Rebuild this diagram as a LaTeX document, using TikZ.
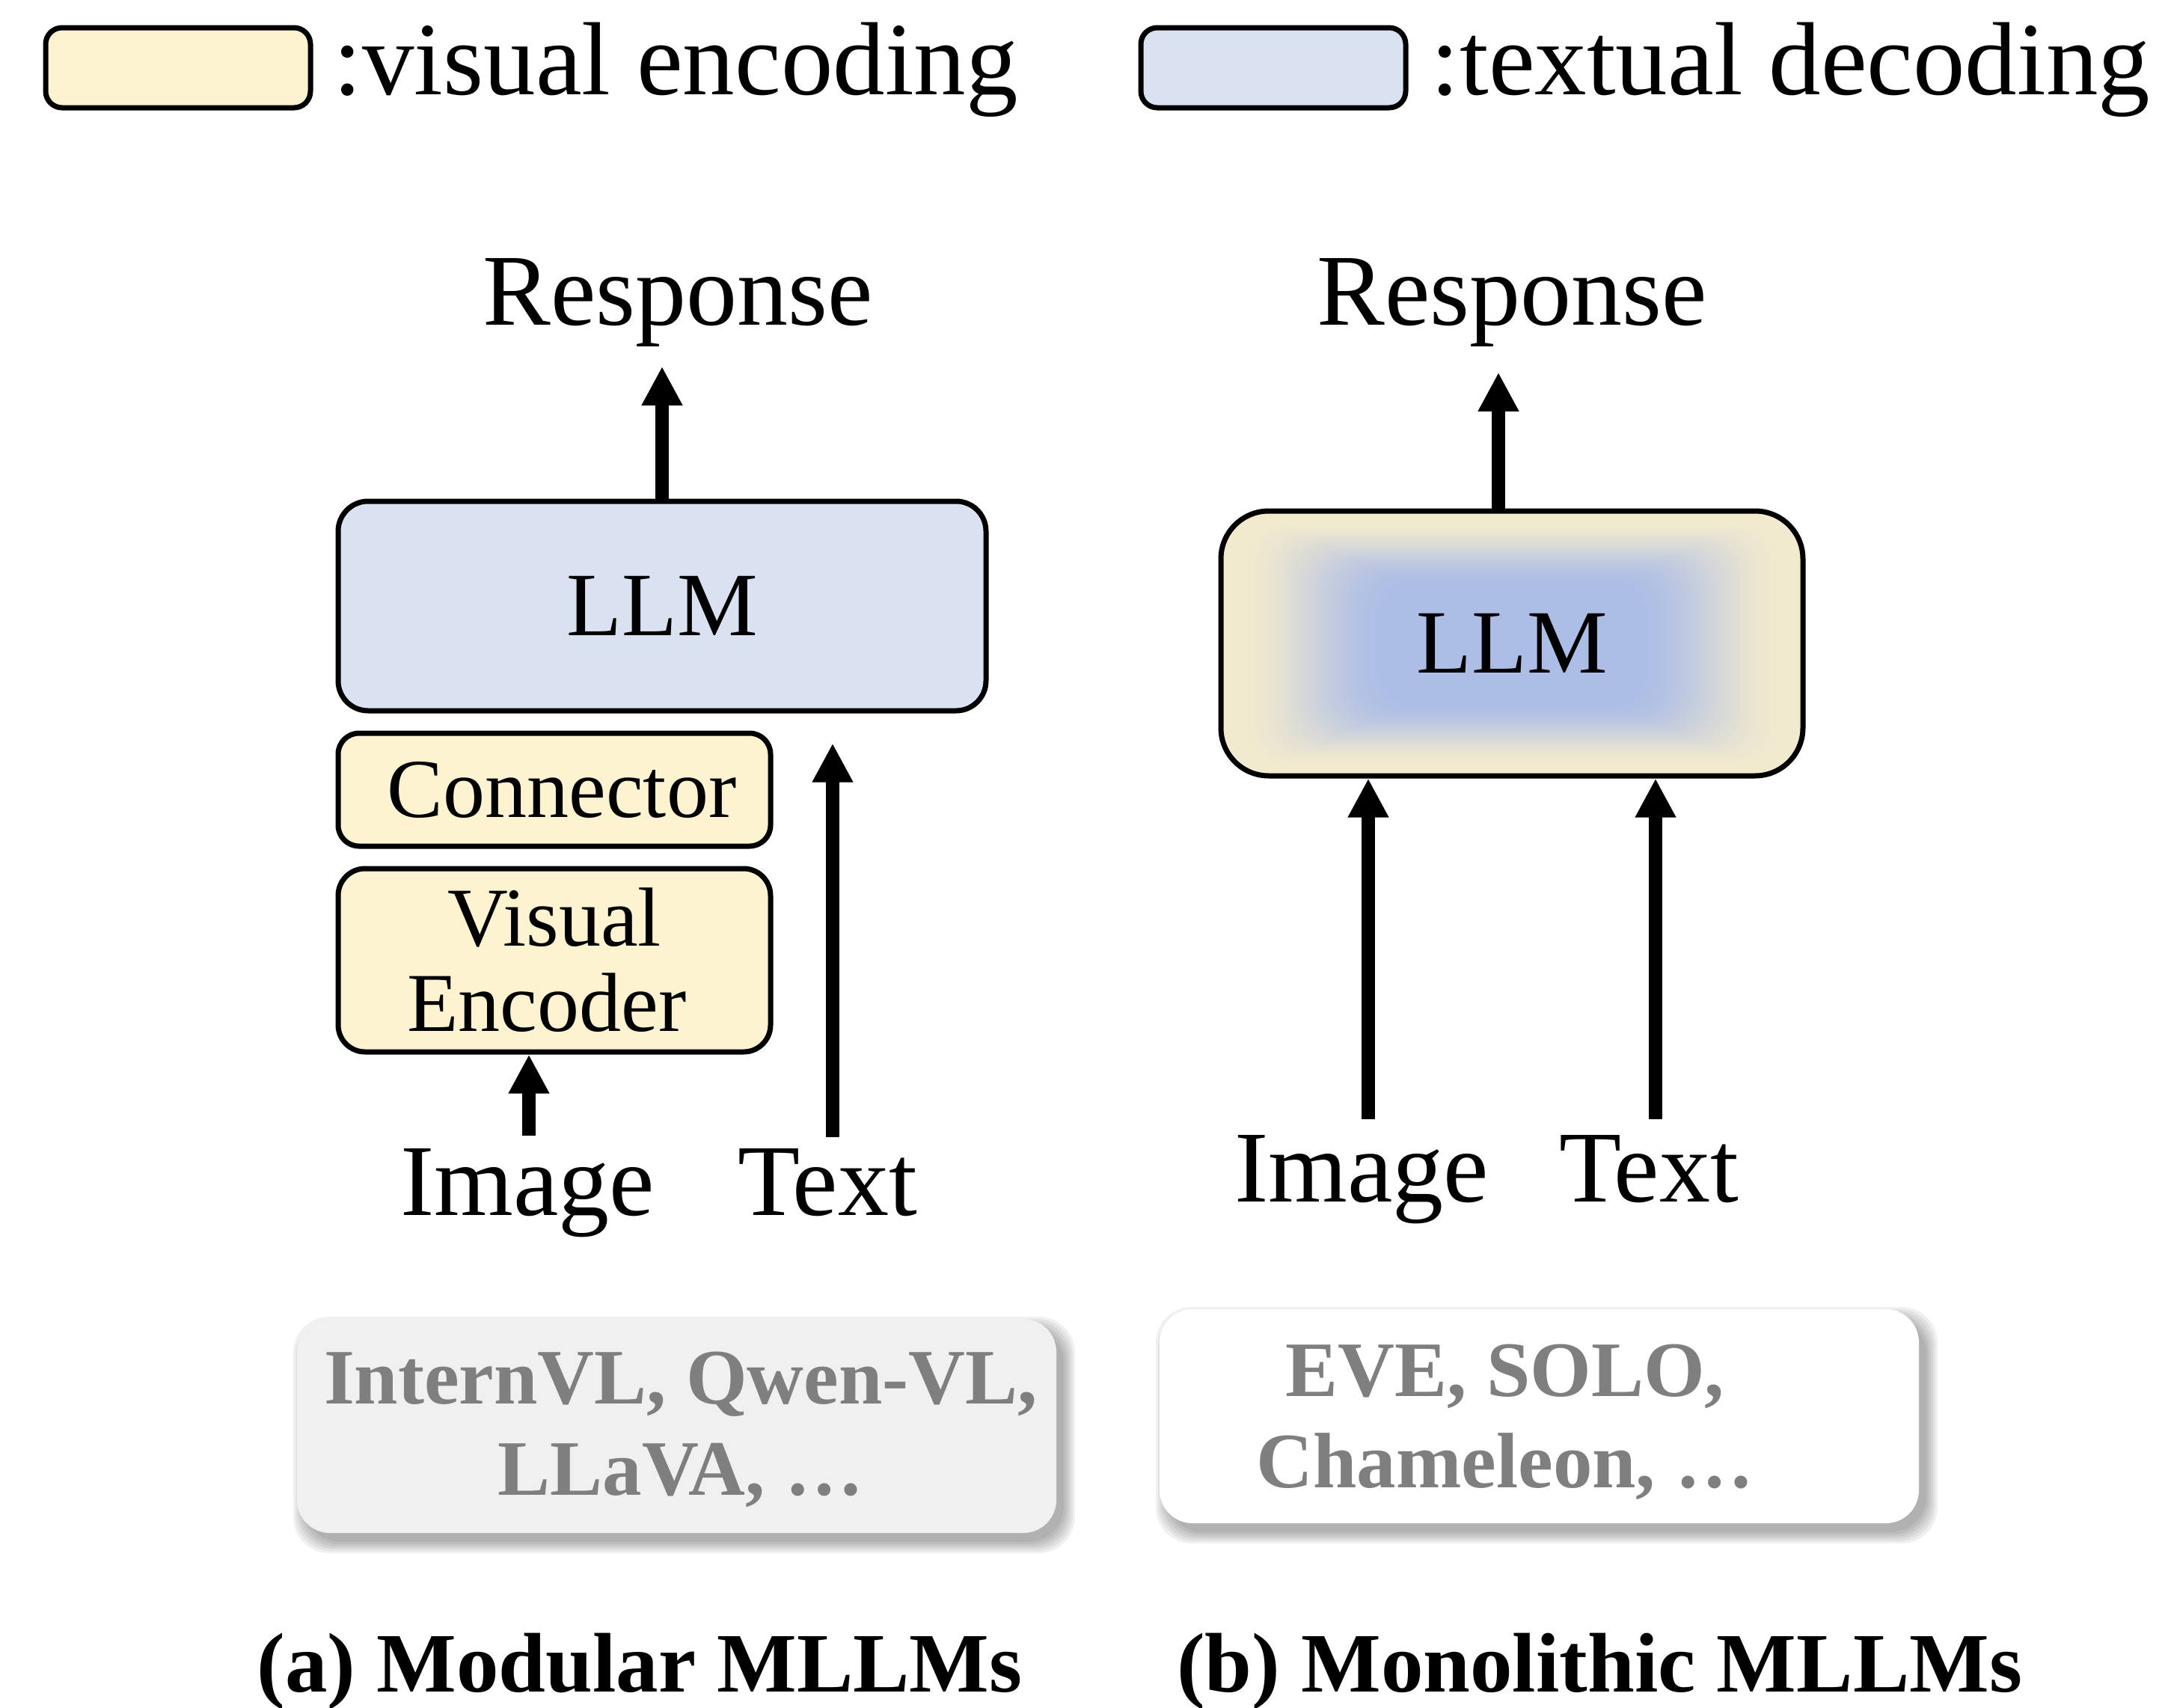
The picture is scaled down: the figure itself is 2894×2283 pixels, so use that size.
\documentclass[tikz,border=0pt]{standalone}
\usepackage{fontspec}
\setmainfont{Liberation Serif}
\usetikzlibrary{arrows.meta}

\definecolor{encfill}{HTML}{FDF3D0}
\definecolor{decfill}{HTML}{DAE2F1}
\definecolor{mixedge}{HTML}{F2EACF}
\definecolor{mixcore}{HTML}{ADBEE6}
\definecolor{examplebg}{HTML}{F0F0F0}
\definecolor{exampletext}{HTML}{7F7F7F}

\begin{document}
\begin{tikzpicture}[x=0.25pt,y=-0.25pt,
  box/.style={draw=black, line width=1.75pt, inner sep=0pt, align=center},
  encbox/.style={box, fill=encfill},
  decbox/.style={box, fill=decfill},
  legbox/.style={minimum width=88.5pt, minimum height=26.75pt, rounded corners=5.5pt},
  arr/.style={line width=4.4pt, -{Triangle[width=12.75pt,length=13pt]}},
  legtext/.style={font=\fontsize{34.75pt}{40pt}\selectfont, inner sep=0pt, anchor=base west},
  bigtext/.style={font=\fontsize{34pt}{40pt}\selectfont, inner sep=0pt, anchor=base},
  llmfont/.style={font=\fontsize{30.25pt}{34pt}\selectfont},
  modfont/.style={font=\fontsize{28pt}{28.5pt}\selectfont},
  exbox/.style={minimum width=253.75pt, minimum height=71.5pt, rounded corners=11pt, inner sep=0pt},
  extext/.style={font=\fontsize{26.25pt}{30.5pt}\selectfont\bfseries, text=exampletext, align=center, inner sep=0pt},
  captext/.style={font=\fontsize{28.25pt}{32pt}\selectfont\bfseries, inner sep=0pt, anchor=base}
]
\useasboundingbox (0,0) rectangle (2894,2283);

% ---------- legend ----------
\node[encbox, legbox] (legenc) at (238,90.5) {};
\node[legtext] (legenctext) at (445,126) {:visual encoding};
\node[decbox, legbox] (legdec) at (1702,90.5) {};
\node[legtext] (legdectext) at (1912,126) {:textual decoding};

% ---------- (a) modular ----------
\node[bigtext] (respA) at (906,434) {Response};
\node[decbox, llmfont, minimum width=216.5pt, minimum height=70pt, rounded corners=10pt] (llmA) at (885,810) {LLM};
\node[encbox, modfont, minimum width=144.5pt, minimum height=37.75pt, rounded corners=7pt] (conn) at (741,1055.5) {\hspace*{5pt}Connector};
\node[encbox, modfont, minimum width=144.5pt, minimum height=61.25pt, rounded corners=9pt] (venc) at (741,1283.5) {Visual\\Encoder\hspace*{5pt}};
\node[bigtext] (imgA) at (705,1624) {Image};
\node[bigtext] (txtA) at (1106,1624) {Text};

\draw[arr, shorten >=6.5pt] (llmA.north) -- (llmA.north |- respA.south);
\draw[arr, shorten <=4pt] ([xshift=0.5pt]imgA.north) -- ([xshift=0.5pt]imgA.north |- venc.south);
\draw[arr, shorten <=3.5pt, shorten >=10pt] ([xshift=1.75pt]txtA.north) -- ([xshift=1.75pt]txtA.north |- llmA.south);

% ---------- (b) monolithic ----------
\node[bigtext] (respB) at (2021,434) {Response};
% soft blend from visual (edge) to textual (core) inside the LLM box
\begin{scope}
  \clip[rounded corners=16pt] (1632,683) rectangle (2410,1037);
  \fill[mixedge] (1632,683) rectangle (2410,1037);
  \foreach \i in {1,...,40} {
    \pgfmathsetmacro\t{\i/40}
    \pgfmathsetmacro\p{100*(3*\t*\t-2*\t*\t*\t)}
    \fill[mixcore!\p!mixedge, rounded corners=12pt]
      (1652+\i*5,693+\i*2.2) rectangle (2390-\i*5,1027-\i*2.2);
  }
\end{scope}
\node[box, llmfont, minimum width=194.5pt, minimum height=88.5pt, rounded corners=16pt] (llmB) at (2021,860) {LLM};
\node[bigtext] (imgB) at (1820,1606) {Image};
\node[bigtext] (txtB) at (2204,1606) {Text};

\draw[arr, shorten >=8.5pt] ([xshift=-4.5pt]llmB.north) -- ([xshift=-4.5pt]llmB.north |- respB.south);
\draw[arr, shorten <=5pt] ([xshift=2.25pt]imgB.north) -- ([xshift=2.25pt]imgB.north |- llmB.south);
\draw[arr, shorten <=5pt] ([xshift=2.25pt]txtB.north) -- ([xshift=2.25pt]txtB.north |- llmB.south);

% ---------- example model boxes with soft shadows ----------
\foreach \k in {0,...,5} {
  \fill[black, opacity=0.06, rounded corners=12pt]
    (407-\k*3,1775-\k*3) rectangle (1422+\k*3,2061+\k*3);
  \fill[black, opacity=0.06, rounded corners=12pt]
    (1560-\k*3,1762-\k*3) rectangle (2575+\k*3,2048+\k*3);
}
\node[exbox, fill=examplebg] (exA) at (904.5,1906) {};
\node[exbox, fill=white] (exB) at (2057.5,1893) {};
\node[extext] (exAtext) at (910,1911) {InternVL, Qwen-VL,\\LLaVA, …};
\node[extext] (exBtext) at (2012,1901) {EVE, SOLO,\\Chameleon, …};

% ---------- captions ----------
\node[captext] (capA) at (855,2261) {(a) Modular MLLMs};
\node[captext] (capB) at (2138,2261) {(b) Monolithic MLLMs};
\end{tikzpicture}
\end{document}
